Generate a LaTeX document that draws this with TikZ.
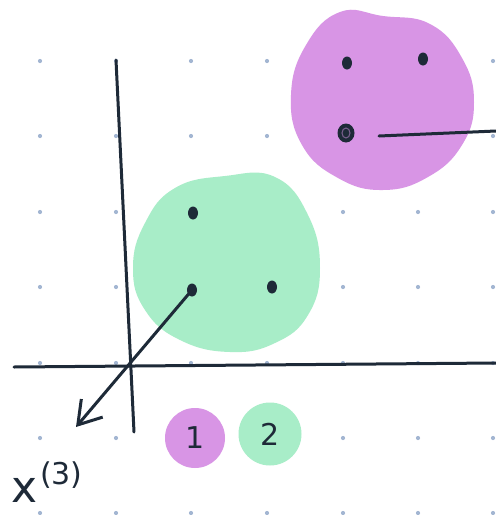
\documentclass[tikz,border=0pt]{standalone}
\usepackage{fontspec}
\setmainfont{DejaVu Sans}
\usetikzlibrary{arrows.meta,shapes.geometric}
\definecolor{ink}{HTML}{1E2A38}
\definecolor{purp}{HTML}{D895E5}
\definecolor{mint}{HTML}{A8EDC8}
\definecolor{griddot}{HTML}{A3B6D2}
\tikzset{
  pt/.style={ellipse,fill=ink,minimum width=10pt,minimum height=13pt,inner sep=0pt},
  bigpt/.style={ellipse,fill=ink,minimum width=17pt,minimum height=19pt,inner sep=0pt},
  stroke/.style={draw=ink,line width=3pt,line cap=round,line join=round},
  badge/.style={circle,minimum size=60pt,inner sep=0pt,font=\fontsize{30}{30}\selectfont,text=ink},
}
\begin{document}
\begin{tikzpicture}[x=1pt,y=-1pt]
\useasboundingbox (0,0) rectangle (496,515);
\fill[white] (0,0) rectangle (496,515);
% grid dots
\foreach \gx in {40,116,191,267,343,418,493}
  \foreach \gy in {61,136,212,287,363,438,513}
    \fill[griddot] (\gx,\gy) circle (2.1pt);
% blobs
\fill[purp] plot[smooth cycle,tension=0.75] coordinates {(474,102) (462,145) (428,177) (383,190) (338,178) (302,145) (291,95) (306,45) (340,12) (383,16) (430,24) (462,58)};
\fill[mint] plot[smooth cycle,tension=0.75] coordinates {(320,268) (308,315) (275,343) (230,352) (180,340) (145,310) (133,268) (145,223) (175,188) (225,176) (275,177) (308,215)};
% axes
\coordinate (vtop) at (116,60);
\coordinate (vbot) at (134,432);
\coordinate (hl) at (14,367);
\coordinate (hr) at (496,363);
\draw[stroke] (vtop) -- (vbot);
\draw[stroke] (hl) -- (hr);
% points
\node[pt] (p1) at (347,63) {};
\node[pt] (p2) at (423,59) {};
\node[bigpt] (p3) at (346,133) {};
\node[pt] (g1) at (193,213) {};
\node[pt] (g2) at (192,290) {};
\node[pt] (g3) at (272,287) {};
\draw[purp!50!ink,line width=1pt] (346,133) ellipse (4pt and 5pt);
% connectors
\coordinate (lineend) at (496,131);
\draw[stroke] (379,136) -- (lineend);
\coordinate (tip) at (76,427);
\draw[stroke,-{Straight Barb[length=22pt,width=28pt,line width=3pt]}] (g2.center) -- (tip);
% badges
\node[badge,fill=purp,minimum size=60pt] (b1) at (195,438) {1};
\node[badge,fill=mint,minimum size=63pt] (b2) at (270,434) {2};
% label
\node[text=ink,font=\fontsize{44}{44}\selectfont,anchor=base west,inner sep=0pt] (lblx) at (11,502) {x};
\node[text=ink,font=\fontsize{30}{30}\selectfont,anchor=west,inner sep=0pt] (lbls) at (40,475) {(3)};
\end{tikzpicture}
\end{document}
